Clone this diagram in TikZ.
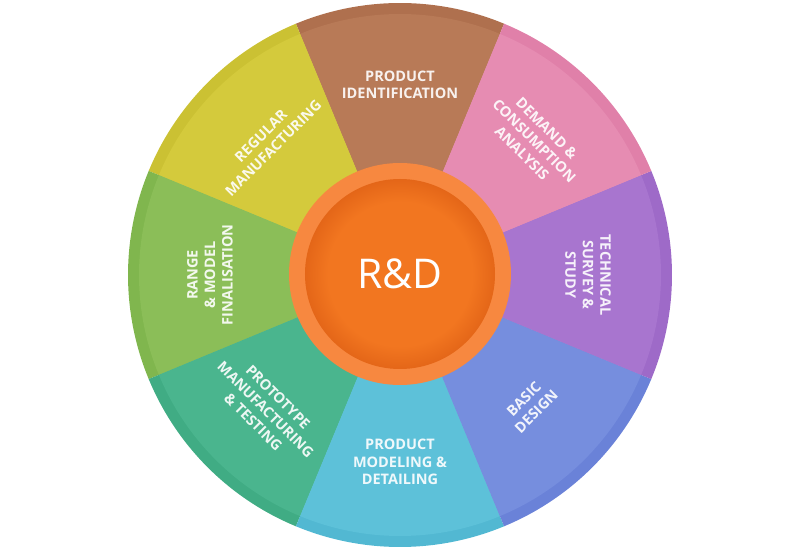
\documentclass[tikz,border=0pt]{standalone}
\usepackage{fontspec}
\usepackage{tikz}
\newfontfamily\wheelfont{Open Sans}
\definecolor{identcol}{RGB}{184,122,87}
\definecolor{identrim}{RGB}{175,112,78}
\definecolor{demandcol}{RGB}{230,140,178}
\definecolor{demandrim}{RGB}{224,128,169}
\definecolor{techcol}{RGB}{168,117,207}
\definecolor{techrim}{RGB}{158,106,200}
\definecolor{basiccol}{RGB}{118,142,222}
\definecolor{basicrim}{RGB}{106,130,216}
\definecolor{modelcol}{RGB}{93,193,217}
\definecolor{modelrim}{RGB}{82,184,210}
\definecolor{protocol}{RGB}{74,181,142}
\definecolor{protorim}{RGB}{64,172,132}
\definecolor{rangecol}{RGB}{139,190,88}
\definecolor{rangerim}{RGB}{128,182,78}
\definecolor{regularcol}{RGB}{212,202,60}
\definecolor{regularrim}{RGB}{203,193,51}
\definecolor{ringorange}{RGB}{247,136,64}
\definecolor{coreorange}{RGB}{242,118,32}
\definecolor{coreedge}{RGB}{228,102,24}
\pgfdeclareradialshading{rdcore}{\pgfpoint{0bp}{0bp}}{color(0bp)=(coreorange); color(19bp)=(coreorange); color(25bp)=(coreedge); color(50bp)=(coreedge)}
\tikzstyle{steplabel}=[text=white, text opacity=0.9, align=center, inner sep=0pt, font=\wheelfont\bfseries\fontsize{14.5}{17.5}\selectfont]
\tikzstyle{corelabel}=[text=white, inner sep=0pt, font=\wheelfont\fontsize{41}{41}\selectfont]

\begin{document}
\begin{tikzpicture}[x=1pt, y=1pt]
\useasboundingbox (-400, -273) rectangle (400, 275);
% outer rim of the wheel
\fill[identrim] (0, 0) -- (67.5:272) arc[start angle=67.5, end angle=112.5, radius=272] -- cycle;
\fill[regularrim] (0, 0) -- (112.5:272) arc[start angle=112.5, end angle=157.5, radius=272] -- cycle;
\fill[rangerim] (0, 0) -- (157.5:272) arc[start angle=157.5, end angle=202.5, radius=272] -- cycle;
\fill[protorim] (0, 0) -- (202.5:272) arc[start angle=202.5, end angle=247.5, radius=272] -- cycle;
\fill[modelrim] (0, 0) -- (247.5:272) arc[start angle=247.5, end angle=292.5, radius=272] -- cycle;
\fill[basicrim] (0, 0) -- (292.5:272) arc[start angle=292.5, end angle=337.5, radius=272] -- cycle;
\fill[techrim] (0, 0) -- (-22.5:272) arc[start angle=-22.5, end angle=22.5, radius=272] -- cycle;
\fill[demandrim] (0, 0) -- (22.5:272) arc[start angle=22.5, end angle=67.5, radius=272] -- cycle;
% segments
\fill[identcol] (0, 0) -- (67.5:261) arc[start angle=67.5, end angle=112.5, radius=261] -- cycle;
\fill[regularcol] (0, 0) -- (112.5:261) arc[start angle=112.5, end angle=157.5, radius=261] -- cycle;
\fill[rangecol] (0, 0) -- (157.5:261) arc[start angle=157.5, end angle=202.5, radius=261] -- cycle;
\fill[protocol] (0, 0) -- (202.5:261) arc[start angle=202.5, end angle=247.5, radius=261] -- cycle;
\fill[modelcol] (0, 0) -- (247.5:261) arc[start angle=247.5, end angle=292.5, radius=261] -- cycle;
\fill[basiccol] (0, 0) -- (292.5:261) arc[start angle=292.5, end angle=337.5, radius=261] -- cycle;
\fill[techcol] (0, 0) -- (-22.5:261) arc[start angle=-22.5, end angle=22.5, radius=261] -- cycle;
\fill[demandcol] (0, 0) -- (22.5:261) arc[start angle=22.5, end angle=67.5, radius=261] -- cycle;
% hub
\fill[ringorange] (0, 1) circle[radius=111];
\shade[shading=rdcore] (0, 1) circle[radius=95];
\node[corelabel] at (0, 1) (rd) {R\&D};
% labels
\node[steplabel] at (90:190) (ident) {PRODUCT\\IDENTIFICATION};
\node[steplabel, rotate=-45] at (45:190) (demand) {DEMAND \&\\CONSUMPTION\\ANALYSIS};
\node[steplabel, rotate=-90] at (0:188) (tech) {TECHNICAL\\SURVEY \&\\STUDY};
\node[steplabel, rotate=45] at (-45:184) (basic) {BASIC\\DESIGN};
\node[steplabel] at (-90:187) (model) {PRODUCT\\MODELING \&\\DETAILING};
\node[steplabel, rotate=-45] at (-135:190) (proto) {PROTOTYPE\\MANUFACTURING\\\& TESTING};
\node[steplabel, rotate=90] at (180:190) (range) {RANGE\\\& MODEL\\FINALISATION};
\node[steplabel, rotate=45] at (135:188) (regular) {REGULAR\\MANUFACTURING};
\end{tikzpicture}
\end{document}
